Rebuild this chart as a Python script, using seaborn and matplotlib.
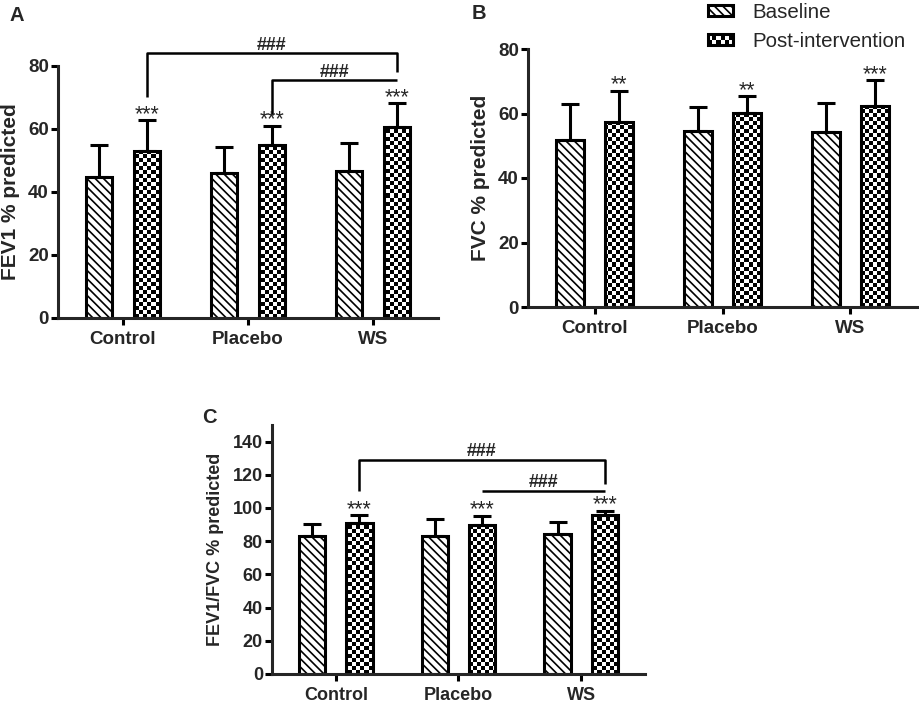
import numpy as np
import pandas as pd
import matplotlib
matplotlib.use('Agg')
import matplotlib.pyplot as plt
from matplotlib.patches import Patch, Rectangle
from matplotlib.legend_handler import HandlerBase
import seaborn as sns

groups = ['Control', 'Placebo', 'WS']
phases = ['Baseline', 'Post-intervention']

# panel A - FEV1
fev1_base = [44.7, 46.1, 46.6]
fev1_base_sd = [10.1, 8.2, 8.9]
fev1_post = [53.0, 54.8, 60.7]
fev1_post_sd = [9.8, 6.3, 7.6]
fev1_stars = ['***', '***', '***']
# (from group, to group, bracket level, left leg end, right leg end)
fev1_brackets = [('Control', 'WS', 84, 70.2, 78), ('Placebo', 'WS', 75.5, 64.4, None)]

# panel B - FVC
fvc_base = [51.9, 54.6, 54.2]
fvc_base_sd = [10.9, 7.5, 9.1]
fvc_post = [57.4, 60.2, 62.4]
fvc_post_sd = [9.7, 5.2, 7.9]
fvc_stars = ['**', '**', '***']

# panel C - FEV1/FVC
ratio_base = [83.4, 83.0, 84.2]
ratio_base_sd = [7.1, 10.5, 7.5]
ratio_post = [90.9, 89.5, 96.0]
ratio_post_sd = [4.9, 5.9, 2.4]
ratio_stars = ['***', '***', '***']
ratio_brackets = [('Control', 'WS', 129, 110, 114.5), ('Placebo', 'WS', 110.5, None, None)]

sns.set_style('ticks')
plt.rcParams['font.family'] = ['Liberation Sans', 'DejaVu Sans']
plt.rcParams['hatch.linewidth'] = 1.2
plt.rcParams['hatch.color'] = 'black'

LW = 2.2
HATCH = '\\\\\\\\'


class CheckerHandler(HandlerBase):
    def create_artists(self, legend, orig_handle, xdescent, ydescent,
                       width, height, fontsize, trans):
        x0, y0 = -xdescent, -ydescent
        cols, rows = 6, 2
        cw, ch = width / cols, height / rows
        parts = [Rectangle((x0, y0), width, height, facecolor='white',
                           edgecolor='none', transform=trans)]
        for i in range(cols):
            for j in range(rows):
                if (i + j) % 2 == 0:
                    parts.append(Rectangle((x0 + i * cw, y0 + j * ch), cw, ch,
                                           facecolor='black', edgecolor='none',
                                           transform=trans))
        parts.append(Rectangle((x0, y0), width, height, facecolor='none',
                               edgecolor='black', linewidth=LW, transform=trans))
        return parts


def draw_panel(ax, base, base_sd, post, post_sd, stars, ylabel, ymax, ytop,
               brackets=None, tick_size=13.5, label_size=15):
    df = pd.DataFrame({
        'group': groups * 2,
        'phase': [phases[0]] * 3 + [phases[1]] * 3,
        'value': base + post,
    })
    sns.barplot(data=df, x='group', y='value', hue='phase',
                palette=['white', 'white'], width=0.768, gap=0.44,
                errorbar=None, legend=False, ax=ax)
    xlim = (-0.52, 2.52)
    ylim = (0, ytop)
    ax.set_xlim(xlim)
    ax.set_ylim(ylim)

    base_bars, post_bars = ax.containers[0], ax.containers[1]
    for bar in ax.patches:
        bar.set_edgecolor('black')
        bar.set_linewidth(LW)
    for bar in base_bars:
        bar.set_hatch(HATCH)

    # checkerboard fill for post-intervention bars, about 4 px cells
    bb = ax.get_window_extent()
    nx, ny = int(bb.width / 4), int(bb.height / 4)
    board = np.indices((ny, nx)).sum(axis=0) % 2
    for bar in post_bars:
        bar.set_facecolor('none')
        im = ax.imshow(board, cmap='gray_r', extent=(*xlim, *ylim), aspect='auto',
                       interpolation='nearest', origin='lower', zorder=0.5)
        im.set_clip_path(bar)
    ax.set_xlim(xlim)
    ax.set_ylim(ylim)

    bx = [b.get_x() + b.get_width() / 2 for b in base_bars]
    px = [b.get_x() + b.get_width() / 2 for b in post_bars]
    ax.errorbar(bx, base, yerr=[np.zeros(3), base_sd], fmt='none', ecolor='black',
                elinewidth=LW, capsize=6.5, capthick=LW, zorder=2)
    ax.errorbar(px, post, yerr=[np.zeros(3), post_sd], fmt='none', ecolor='black',
                elinewidth=LW, capsize=6.5, capthick=LW, zorder=2)
    for x, m, s, st in zip(px, post, post_sd, stars):
        ax.annotate(st, (x, m + s), xytext=(0, 0), textcoords='offset points',
                    ha='center', va='baseline', fontsize=15.5, annotation_clip=False)

    if brackets:
        pos = dict(zip(groups, px))
        for g1, g2, level, leg1, leg2 in brackets:
            x1, x2 = pos[g1], pos[g2]
            xs, ys = [x1, x2], [level, level]
            if leg1 is not None:
                xs, ys = [x1] + xs, [leg1] + ys
            if leg2 is not None:
                xs, ys = xs + [x2], ys + [leg2]
            ax.plot(xs, ys, color='black', lw=1.8, solid_capstyle='butt', clip_on=False)
            ax.annotate('###', ((x1 + x2) / 2, level), xytext=(0, 2.5),
                        textcoords='offset points', ha='center', va='baseline',
                        fontsize=13, fontweight='bold', annotation_clip=False)

    ax.set_yticks(np.arange(0, ymax + 1, 20))
    ax.set_xlabel('')
    ax.set_ylabel(ylabel, fontsize=label_size, fontweight='bold', labelpad=6)
    sns.despine(ax=ax)
    for sp in ['left', 'bottom']:
        ax.spines[sp].set_linewidth(LW)
    ax.tick_params(axis='both', width=LW, length=5, labelsize=tick_size, color='black')
    ax.tick_params(axis='y', pad=1.5)
    ax.tick_params(axis='x', pad=4)
    for lab in ax.get_xticklabels() + ax.get_yticklabels():
        lab.set_fontweight('bold')


fig = plt.figure(figsize=(9.2, 7.05), dpi=100)
W, H = 920, 705
ax_a = fig.add_axes([58 / W, 1 - 318 / H, 380 / W, 252 / H])
ax_b = fig.add_axes([528 / W, 1 - 307 / H, 389 / W, 258 / H])
ax_c = fig.add_axes([272 / W, 1 - 674 / H, 373 / W, 249 / H])

draw_panel(ax_a, fev1_base, fev1_base_sd, fev1_post, fev1_post_sd, fev1_stars,
           'FEV1 % predicted', 80, 80, brackets=fev1_brackets)
draw_panel(ax_b, fvc_base, fvc_base_sd, fvc_post, fvc_post_sd, fvc_stars,
           'FVC % predicted', 80, 80)
draw_panel(ax_c, ratio_base, ratio_base_sd, ratio_post, ratio_post_sd, ratio_stars,
           'FEV1/FVC % predicted', 140, 150, brackets=ratio_brackets,
           tick_size=13, label_size=13)

fig.text(10 / W, 1 - 6 / H, 'A', fontsize=14.5, fontweight='bold', va='top')
fig.text(472 / W, 1 - 4 / H, 'B', fontsize=14.5, fontweight='bold', va='top')
fig.text(202 / W, 1 - 408 / H, 'C', fontsize=14.5, fontweight='bold', va='top')

base_handle = Patch(facecolor='white', edgecolor='black', hatch=HATCH, linewidth=LW)
post_handle = Patch(facecolor='white', edgecolor='black', linewidth=LW)
fig.legend([base_handle, post_handle], phases, loc='upper left',
           bbox_to_anchor=(708 / W, 1 - 3 / H), frameon=False, fontsize=14.8,
           handlelength=1.22, handleheight=0.44, handletextpad=0.93,
           labelspacing=0.5, borderpad=0, borderaxespad=0,
           handler_map={post_handle: CheckerHandler()})

fig.savefig('out.png', dpi=100)
